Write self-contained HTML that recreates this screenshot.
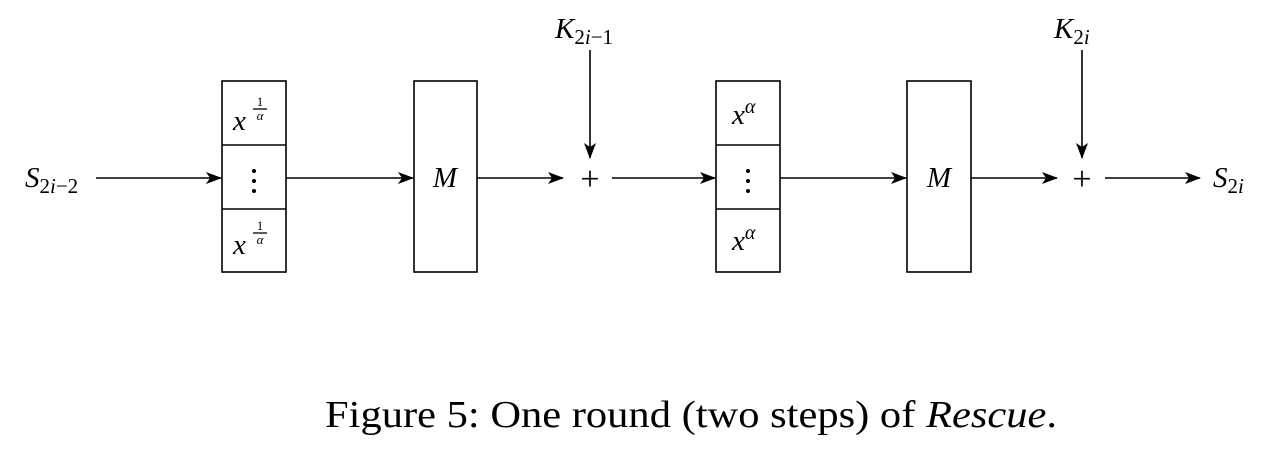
<!DOCTYPE html>
<html><head><style>
body{margin:0;background:#fff;}
svg text{font-family:"Liberation Serif",serif;fill:#000;}
</style></head><body>
<svg width="1267" height="463" viewBox="0 0 1267 463" xmlns="http://www.w3.org/2000/svg">
<defs><marker id="a" markerWidth="16" markerHeight="12" refX="15" refY="6" orient="auto" markerUnits="userSpaceOnUse"><path d="M0,0 L16,6 L0,12 L4,6 Z" fill="#000"/></marker></defs>
<g stroke="#000" stroke-width="1.6" fill="none">
<rect x="222" y="81" width="64" height="191"/><line x1="222" y1="145" x2="286" y2="145"/><line x1="222" y1="209" x2="286" y2="209"/>
<rect x="414" y="81" width="63" height="191"/>
<rect x="716" y="81" width="64" height="191"/><line x1="716" y1="145" x2="780" y2="145"/><line x1="716" y1="209" x2="780" y2="209"/>
<rect x="907" y="81" width="64" height="191"/>
<line x1="96" y1="178" x2="221" y2="178" marker-end="url(#a)"/>
<line x1="286" y1="178" x2="413" y2="178" marker-end="url(#a)"/>
<line x1="477" y1="178" x2="563" y2="178" marker-end="url(#a)"/>
<line x1="612" y1="178" x2="715" y2="178" marker-end="url(#a)"/>
<line x1="780" y1="178" x2="906" y2="178" marker-end="url(#a)"/>
<line x1="971" y1="178" x2="1057" y2="178" marker-end="url(#a)"/>
<line x1="1105" y1="178" x2="1200" y2="178" marker-end="url(#a)"/>
<line x1="590" y1="50" x2="590" y2="158" marker-end="url(#a)"/>
<line x1="1082" y1="50" x2="1082" y2="158" marker-end="url(#a)"/>
</g>
<g font-size="34">
<text x="590" y="190" text-anchor="middle">+</text>
<text x="1082" y="190" text-anchor="middle">+</text>
</g>
<g font-style="italic" font-size="29">
<text x="25" y="187">S<tspan font-style="normal" font-size="21" dy="6">2</tspan><tspan font-size="21">i</tspan><tspan font-style="normal" font-size="21">−2</tspan></text>
<text x="1213" y="187">S<tspan font-style="normal" font-size="21" dy="6">2</tspan><tspan font-size="21">i</tspan></text>
<text x="555" y="38">K<tspan font-style="normal" font-size="21" dy="6">2</tspan><tspan font-size="21">i</tspan><tspan font-style="normal" font-size="21">−1</tspan></text>
<text x="1054" y="38">K<tspan font-style="normal" font-size="21" dy="6">2</tspan><tspan font-size="21">i</tspan></text>
<text x="445" y="187" text-anchor="middle">M</text>
<text x="939" y="187" text-anchor="middle">M</text>
<text x="233" y="130">x</text><text x="233" y="254">x</text>
<text x="732" y="124">x<tspan font-size="20" dy="-11">α</tspan></text>
<text x="732" y="250">x<tspan font-size="20" dy="-11">α</tspan></text>
</g>
<g font-size="13">
<text x="260" y="106" text-anchor="middle">1</text><line x1="253" y1="109" x2="267" y2="109" stroke="#000" stroke-width="1.3"/><text x="260" y="120" text-anchor="middle" font-style="italic">α</text>
<text x="260" y="230" text-anchor="middle">1</text><line x1="253" y1="233" x2="267" y2="233" stroke="#000" stroke-width="1.3"/><text x="260" y="244" text-anchor="middle" font-style="italic">α</text>
</g>
<g fill="#000">
<circle cx="254" cy="171" r="2"/><circle cx="254" cy="181" r="2"/><circle cx="254" cy="191" r="2"/>
<circle cx="748" cy="171" r="2"/><circle cx="748" cy="181" r="2"/><circle cx="748" cy="191" r="2"/>
</g>
<text x="325" y="427" font-size="38" textLength="732" lengthAdjust="spacingAndGlyphs">Figure 5: One round (two steps) of <tspan font-style="italic">Rescue</tspan>.</text>
</svg>
</body></html>
